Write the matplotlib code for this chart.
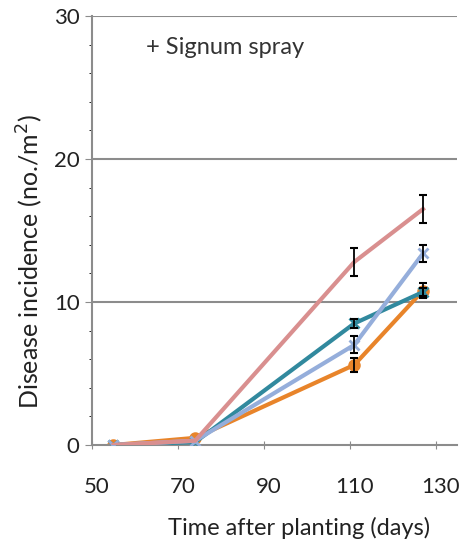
import matplotlib
matplotlib.use("Agg")
import matplotlib.pyplot as plt
import matplotlib.transforms as mtransforms
from matplotlib.ticker import MultipleLocator

plt.rcParams['font.family'] = ['Lato', 'DejaVu Sans']

days = [55, 74, 111, 127]

pink = [0.0, 0.3, 12.8, 16.5]
pink_err = [0.0, 0.0, 1.0, 1.0]
teal = [0.0, 0.2, 8.5, 10.7]
teal_err = [0.0, 0.0, 0.3, 0.3]
blue = [0.0, 0.3, 7.0, 13.4]
blue_err = [0.0, 0.0, 0.6, 0.6]
orange = [0.0, 0.5, 5.6, 10.8]
orange_err = [0.0, 0.0, 0.5, 0.5]

xticks = [50, 70, 90, 110, 130]
yticks = [0, 10, 20, 30]

fig = plt.figure(figsize=(4.75, 5.41), dpi=100)
ax = fig.add_axes([92 / 475, 1 - 445 / 541, (457 - 92) / 475, (445 - 16) / 541])

for y in yticks[1:]:
    ax.axhline(y, color='#8c8c8c', lw=1.5, zorder=0)

series = [
    (orange, orange_err, '#e8842a', 'o', 2),
    (teal, teal_err, '#31899e', 'x', 3),
    (blue, blue_err, '#95aedb', 'x', 4),
    (pink, pink_err, '#d98f8f', None, 5),
]
for vals, err, col, mk, z in series:
    ax.plot(days, vals, color=col, lw=3, marker=mk, ms=7, mew=2,
            zorder=z)
    # only the later points carry visible error bars
    ax.errorbar(days[2:], vals[2:], yerr=err[2:], fmt='none', ecolor='black',
                elinewidth=1.3, capsize=3, capthick=1.5, zorder=6)

ax.set_xlim(50, 134.9)
ax.set_ylim(0, 30)
ax.set_xticks(xticks)
ax.set_yticks(yticks)
ax.yaxis.set_minor_locator(MultipleLocator(2))
ax.tick_params(axis='both', labelsize=16, colors='#8c8c8c', labelcolor='#222222')
ax.tick_params(axis='x', direction='inout', length=6, pad=20)
ax.tick_params(axis='y', direction='out', length=5, pad=4)
ax.tick_params(axis='y', which='minor', length=2)

# x tick labels sit a little to the right of their ticks
shift = mtransforms.ScaledTranslation(5 / 100, 0, fig.dpi_scale_trans)
for lbl in ax.get_xticklabels():
    lbl.set_transform(lbl.get_transform() + shift)

for s in ['top', 'right']:
    ax.spines[s].set_visible(False)
for s in ['left', 'bottom']:
    ax.spines[s].set_color('#8c8c8c')
    ax.spines[s].set_linewidth(1.5)

ax.set_xlabel('Time after planting (days)', fontsize=17, color='#222222')
ax.xaxis.set_label_coords(0.567, -0.168)
ax.set_ylabel('Disease incidence (no./m$^2$)', fontsize=18, color='#222222')
ax.yaxis.set_label_coords(-0.13, 0.427)

ax.text(62.5, 27.8, '+ Signum spray', fontsize=17, color='#333333', va='center')

fig.savefig('out.png', dpi=100)
